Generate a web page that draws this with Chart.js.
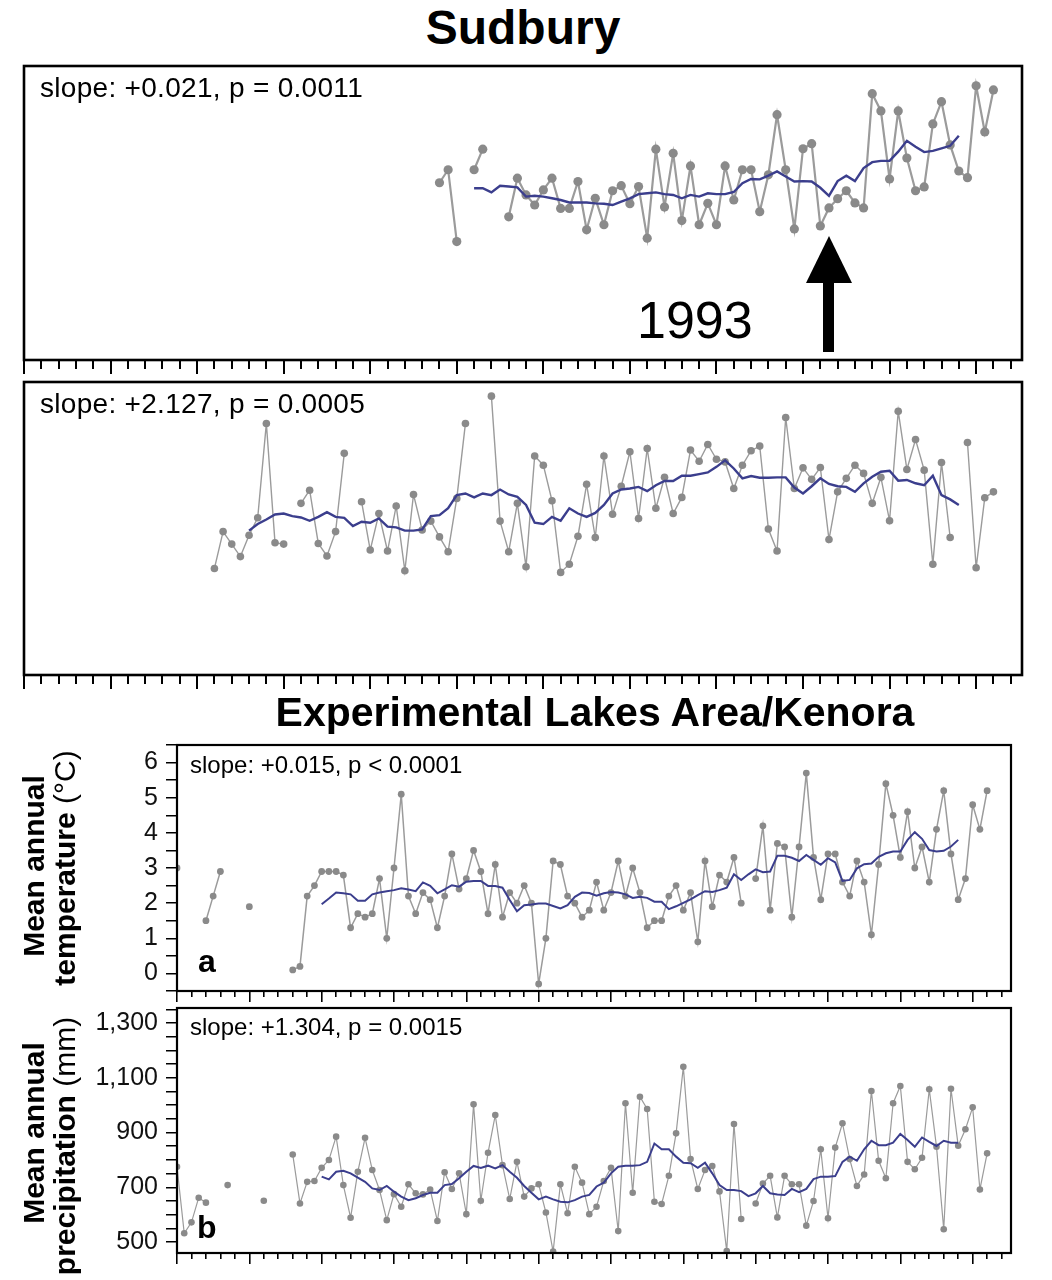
<!DOCTYPE html>
<html>
<head>
<meta charset="utf-8">
<script src="https://cdn.jsdelivr.net/npm/chart.js@4.4.1/dist/chart.umd.min.js"></script>
<style>
html,body{margin:0;padding:0;background:#fff;}
body{width:1052px;height:1280px;position:relative;overflow:hidden;font-family:'Liberation Sans',Arial,Helvetica,sans-serif;color:#000;}
canvas{position:absolute;left:0;}
.t{position:absolute;white-space:nowrap;line-height:1;}
.b{font-weight:bold;}
.rot{position:absolute;white-space:nowrap;line-height:1;font-weight:bold;font-size:30px;transform:translate(-50%,-50%) rotate(-90deg);}
.rot span{font-weight:normal;}
</style>
</head>
<body>
<canvas id="c1" width="1052" height="330" style="top:56px"></canvas>
<canvas id="c2" width="1052" height="330" style="top:372px"></canvas>
<canvas id="c3" width="1052" height="300" style="top:719px"></canvas>
<canvas id="c4" width="1052" height="298" style="top:982px"></canvas>

<div class="t b" style="font-size:48px;left:523px;top:4px;transform:translateX(-50%)">Sudbury</div>
<div class="t" style="font-size:28px;letter-spacing:0.3px;left:40px;top:74px">slope: +0.021, p = 0.0011</div>
<div class="t" style="font-size:52px;left:637px;top:294px">1993</div>
<svg style="position:absolute;left:0;top:0" width="1052" height="400">
  <rect x="823" y="278" width="11" height="74" fill="#000"/>
  <polygon points="806,283 852,283 829,236" fill="#000"/>
</svg>
<div class="t" style="font-size:28px;letter-spacing:0.3px;left:40px;top:390px">slope: +2.127, p = 0.0005</div>
<div class="t b" style="font-size:41px;left:595px;top:692px;transform:translateX(-50%)">Experimental Lakes Area/Kenora</div>
<div class="t" style="font-size:24px;left:190px;top:753px">slope: +0.015, p &lt; 0.0001</div>
<div class="t b" style="font-size:32px;left:198px;top:945px">a</div>
<div class="t" style="font-size:24px;left:190px;top:1015px">slope: +1.304, p = 0.0015</div>
<div class="t b" style="font-size:32px;left:197px;top:1211px">b</div>
<div class="rot" style="left:34px;top:866px">Mean annual</div>
<div class="rot" style="left:65px;top:868px">temperature <span>(°C)</span></div>
<div class="rot" style="left:34px;top:1133px">Mean annual</div>
<div class="rot" style="left:65px;top:1146px">precipitation <span>(mm)</span></div>

<script>
// ---------- DATA ----------
// Sudbury mean annual temperature (°C), starting 1948
const sudburyTempStart = 1948;
const sudburyTemp = [3.97,4.28,2.57,null,4.28,4.77,null,null,
  3.16,4.08,3.68,3.44,3.80,4.08,3.36,3.36,4.00,2.85,
  3.60,2.97,3.78,3.90,3.47,3.88,2.65,4.77,3.39,4.67,
  3.07,4.37,2.97,3.48,2.97,4.37,3.56,4.28,4.28,3.28,
  4.16,5.59,4.28,2.87,4.78,4.90,2.94,3.37,3.59,3.78,
  3.49,3.37,6.09,5.68,4.06,5.68,4.56,3.78,3.87,5.37,
  5.90,4.87,4.25,4.09,6.28,5.18,6.18];
// Sudbury temperature smoothed trend, starting 1952
const sudburyTempTrendStart = 1952;
const sudburyTempTrend = [3.84,3.84,3.74,3.90,3.88,3.86,3.64,3.66,3.64,3.60,
  3.56,3.50,3.50,3.50,3.48,3.47,3.44,3.52,3.60,3.70,
  3.72,3.74,3.70,3.68,3.60,3.68,3.64,3.72,3.70,3.70,
  3.75,3.96,4.06,4.05,4.14,4.24,4.12,4.00,4.01,4.00,
  3.85,3.66,4.01,4.14,4.01,4.32,4.46,4.49,4.49,4.71,
  4.97,4.83,4.70,4.73,4.79,4.85,5.09];

// Sudbury mean annual precipitation (mm), starting 1922
const sudburyPrecipStart = 1922;
const sudburyPrecip = [631,743,705,667,732,785,1072,709,705,null,
  829,869,707,669,743,981,null,834,687,798,
  684,821,624,856,748,775,727,682,844,1072,
  null,null,1155,775,682,829,636,973,945,837,
  619,644,729,887,725,973,796,881,986,783,
  996,814,908,798,847,991,957,1008,963,955,
  874,945,989,1003,751,684,1090,874,937,902,
  938,719,864,905,945,920,829,908,776,1109,
  932,1023,930,644,953,725,null,1014,633,846,
  864];
const sudburyPrecipTrendStart = 1926;
const sudburyPrecipTrend = [746,766,780,795,798,790,786,776,788,802,
  788,785,760,773,770,783,758,756,746,746,
  750,790,793,814,854,859,847,859,854,871,
  856,849,824,770,766,788,776,814,798,788,
  800,824,859,871,874,879,866,884,897,897,
  913,913,918,923,940,960,935,905,912,907,
  907,908,908,877,859,881,905,888,881,879,
  864,890,910,925,928,898,900,890,884,913,
  854,841,824];

// Experimental Lakes Area / Kenora temperature (°C), starting 1900
const elaTempStart = 1900;
const elaTemp = [3.0,null,null,null,1.5,2.2,2.9,null,null,null,
  1.9,null,null,null,null,null,0.1,0.2,2.2,2.5,
  2.9,2.9,2.9,2.8,1.3,1.7,1.6,1.7,2.7,1.0,
  3.0,5.1,2.2,1.7,2.3,2.1,1.3,2.2,3.4,2.4,
  2.7,3.5,2.9,1.7,3.1,1.6,2.3,2.0,2.5,2.0,
  -0.3,1.0,3.2,3.1,2.2,2.0,1.6,1.8,2.6,1.8,
  2.3,3.2,2.2,3.0,2.3,1.3,1.5,1.5,2.2,2.5,
  1.8,2.3,0.9,3.2,1.9,2.8,2.6,3.3,2.0,null,
  2.7,4.2,1.8,3.7,3.6,1.6,3.6,5.7,3.3,2.1,
  3.4,3.4,2.6,2.2,3.2,2.6,1.1,3.1,5.4,4.5,
  3.3,4.6,3.0,3.6,2.6,4.1,5.2,3.4,2.1,2.7,
  4.8,4.1,5.2];
const elaTempTrendStart = 1920;
const elaTempTrend = [1.97,2.13,2.30,2.28,2.25,2.07,2.07,2.25,2.30,2.34,
  2.37,2.42,2.39,2.34,2.59,2.49,2.28,2.39,2.51,2.47,
  2.61,2.63,2.63,2.49,2.49,2.44,2.09,1.77,1.94,1.96,
  1.99,1.99,1.92,1.85,1.94,2.18,2.30,2.29,2.21,2.28,
  2.32,2.30,2.25,2.15,2.18,2.15,2.04,2.04,1.83,1.91,
  2.01,2.11,2.23,2.34,2.32,2.37,2.44,2.82,2.66,2.82,
  2.96,2.88,2.90,3.35,3.35,3.29,3.20,3.37,3.23,3.09,
  3.28,3.16,2.63,2.66,2.99,3.11,3.13,3.32,3.42,3.47,
  3.47,3.80,4.02,3.83,3.51,3.47,3.49,3.61,3.80];

// Experimental Lakes Area / Kenora precipitation (mm), starting 1900
const elaPrecipStart = 1900;
const elaPrecip = [775,532,572,662,644,null,null,708,null,null,
  null,null,651,null,null,null,820,641,720,723,
  771,800,885,708,589,757,881,763,690,580,
  675,629,711,678,674,692,577,755,694,751,
  602,1003,651,826,964,781,657,793,666,696,
  711,608,465,711,605,775,717,602,629,723,
  771,540,1007,680,1031,986,647,639,742,897,
  1140,803,694,763,778,685,467,931,584,null,
  641,714,742,590,742,711,711,560,650,839,
  587,845,934,803,705,747,1052,797,733,1007,
  1070,793,766,808,1058,848,547,1060,852,912,
  992,692,824];
const elaPrecipTrendStart = 1920;
const elaPrecipTrend = [739,729,757,760,751,735,720,696,690,705,
  684,666,653,660,672,680,680,708,712,733,
  757,778,771,779,769,781,757,735,705,680,
  656,666,656,647,645,653,666,672,703,717,
  751,775,779,779,781,793,860,839,839,812,
  790,788,771,790,751,708,690,690,686,668,
  678,705,678,674,672,694,682,694,730,739,
  739,741,793,812,797,839,870,854,854,863,
  895,873,848,882,866,851,870,863,863];

// Axis ranges and tick steps
const yearAxisMin = 1900;
const yearAxisMax = 2015.3;
const yearMinorStep = 2;
const yearMajorStep = 10;
const tempTickStep = 0.5;
const precipTickStep = 50;

// ---------- CHARTS ----------
const FONT = "'Liberation Sans', Arial, Helvetica, sans-serif";
Chart.defaults.font.family = FONT;
Chart.defaults.color = '#111';

function toPoints(start, values) {
  return values.map((v, i) => ({ x: start + i, y: v }));
}

const framePlugin = {
  id: 'frame',
  afterDraw(chart, args, opts) {
    const { ctx, chartArea: a } = chart;
    ctx.save();
    ctx.strokeStyle = '#000';
    ctx.lineWidth = opts.width || 2;
    ctx.strokeRect(a.left, a.top, a.right - a.left, a.bottom - a.top);
    ctx.restore();
  }
};

function xAxes(minorLen, majorLen, lw) {
  return {
    x: {
      type: 'linear', position: 'bottom', min: yearAxisMin, max: yearAxisMax, weight: 0,
      ticks: { display: false, stepSize: yearMinorStep, includeBounds: false },
      grid: { drawOnChartArea: false, tickLength: minorLen, color: '#000', lineWidth: lw },
      border: { display: false }
    },
    x2: {
      type: 'linear', position: 'bottom', min: yearAxisMin, max: yearAxisMax, weight: 1,
      ticks: { display: false, stepSize: yearMajorStep, includeBounds: false },
      grid: { drawOnChartArea: false, tickLength: majorLen - minorLen, color: '#000', lineWidth: lw },
      border: { display: false }
    }
  };
}

function makePanel(id, o) {
  const scales = xAxes(o.minorLen, o.majorLen, o.tickWidth);
  scales.y = o.y;
  new Chart(document.getElementById(id), {
    type: 'line',
    data: {
      datasets: [
        {
          data: toPoints(o.trendStart, o.trend),
          borderColor: '#3b3e8d', borderWidth: o.trendWidth,
          pointRadius: 0, tension: 0, spanGaps: false, xAxisID: 'x', yAxisID: 'y'
        },
        {
          data: toPoints(o.start, o.values),
          borderColor: '#9b9b9b', borderWidth: o.lineWidth,
          pointRadius: o.pointRadius, pointBackgroundColor: '#8a8a8a', pointBorderWidth: 0,
          pointHoverRadius: o.pointRadius,
          tension: 0, spanGaps: false, xAxisID: 'x', yAxisID: 'y'
        }
      ]
    },
    options: {
      responsive: false,
      animation: false,
      events: [],
      layout: { padding: o.padding },
      plugins: { legend: { display: false }, tooltip: { enabled: false }, frame: { width: o.frameWidth } },
      scales
    },
    plugins: [framePlugin]
  });
}

function hiddenY(min, max) {
  return { type: 'linear', display: false, min, max };
}

function labeledY(min, max, step, labelFn) {
  return {
    type: 'linear', min, max,
    afterFit(scale) { scale.width = 177; },
    ticks: {
      stepSize: step, includeBounds: false, autoSkip: false,
      color: '#111', font: { family: FONT, size: 25 }, padding: 8,
      callback: labelFn
    },
    grid: { drawOnChartArea: false, tickLength: 11, color: '#000', lineWidth: 1.5 },
    border: { display: false }
  };
}

// Sudbury temperature
makePanel('c1', {
  start: sudburyTempStart, values: sudburyTemp,
  trendStart: sudburyTempTrendStart, trend: sudburyTempTrend,
  y: hiddenY(-0.25, 6.75),
  padding: { left: 24, right: 30, top: 10, bottom: 12 },
  minorLen: 9, majorLen: 14, tickWidth: 2,
  lineWidth: 2.2, pointRadius: 4.6, trendWidth: 2.4, frameWidth: 2.6
});

// Sudbury precipitation
makePanel('c2', {
  start: sudburyPrecipStart, values: sudburyPrecip,
  trendStart: sudburyPrecipTrendStart, trend: sudburyPrecipTrend,
  y: hiddenY(307, 1198),
  padding: { left: 24, right: 30, top: 10, bottom: 13 },
  minorLen: 9, majorLen: 14, tickWidth: 2,
  lineWidth: 1.4, pointRadius: 3.8, trendWidth: 2.4, frameWidth: 2.6
});

// ELA temperature
makePanel('c3', {
  start: elaTempStart, values: elaTemp,
  trendStart: elaTempTrendStart, trend: elaTempTrend,
  y: labeledY(-0.5, 6.5, tempTickStep, v => Number.isInteger(v) ? String(v) : ''),
  padding: { left: 0, right: 41, top: 26, bottom: 17 },
  minorLen: 6, majorLen: 11, tickWidth: 1.6,
  lineWidth: 1.5, pointRadius: 3.4, trendWidth: 2, frameWidth: 2.2
});

// ELA precipitation
makePanel('c4', {
  start: elaPrecipStart, values: elaPrecip,
  trendStart: elaPrecipTrendStart, trend: elaPrecipTrend,
  y: labeledY(460, 1355, precipTickStep, v => (v % 200 === 100) ? v.toLocaleString('en-US') : ''),
  padding: { left: 0, right: 41, top: 26, bottom: 16 },
  minorLen: 6, majorLen: 11, tickWidth: 1.6,
  lineWidth: 1.2, pointRadius: 3.3, trendWidth: 2, frameWidth: 2.2
});
</script>
</body>
</html>
